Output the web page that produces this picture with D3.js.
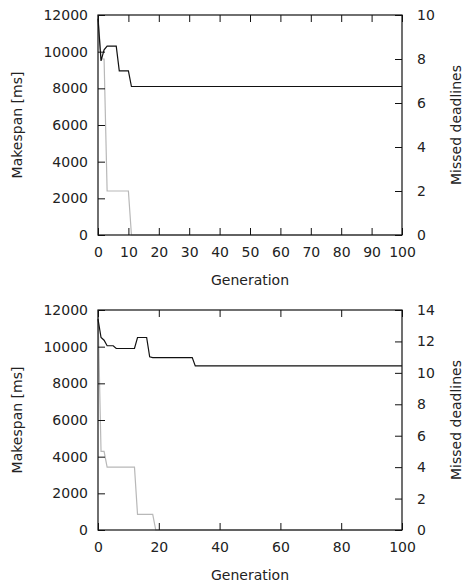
<!DOCTYPE html>
<html><head><meta charset="utf-8">
<script src="https://cdn.jsdelivr.net/npm/d3@7"></script>
<style>
html,body{margin:0;padding:0;background:#fff;}
svg text{font-family:"DejaVu Sans",Verdana,sans-serif;font-size:14px;fill:#222;}
</style></head>
<body>
<script>
// Panel 1 data
const generations1 = [0, 1, 2, 3, 6, 7, 10, 11, 100];
const makespan1   = [11800, 9500, 10100, 10300, 10300, 8950, 8950, 8100, 8100];
const missedGen1  = [0, 1, 2, 3, 10, 11, 100];
const missed1     = [10, 8, 8, 2, 2, 0, 0];
const xTicks1 = [0,10,20,30,40,50,60,70,80,90,100];
const yTicks1 = [0,2000,4000,6000,8000,10000,12000];
const y2Ticks1 = [0,2,4,6,8,10];

// Panel 2 data
const generations2 = [0, 1, 2, 3, 5, 6, 12, 13, 16, 17, 18, 31, 32, 100];
const makespan2   = [11500, 10500, 10350, 10050, 10050, 9900, 9900, 10500, 10500, 9450, 9400, 9400, 8950, 8950];
const missedGen2  = [0, 1, 2, 3, 12, 13, 18, 19, 100];
const missed2     = [14, 5, 5, 4, 4, 1, 1, 0, 0];
const xTicks2 = [0,20,40,60,80,100];
const yTicks2 = [0,2000,4000,6000,8000,10000,12000];
const y2Ticks2 = [0,2,4,6,8,10,12,14];

const xLabel = "Generation", yLabel = "Makespan [ms]", y2Label = "Missed deadlines";

const W = 464, H = 587;
const svg = d3.select("body").append("svg").attr("width", W).attr("height", H);
const fmt = d3.format("d");

function panel(top, gens, ms, mgens, missed, xT, yT, y2T) {
  const left = 98, right = 402, bottom = top + 220;
  const x = d3.scaleLinear().domain([0, 100]).range([left, right]);
  const y = d3.scaleLinear().domain([0, 12000]).range([bottom, top]);
  const y2 = d3.scaleLinear().domain([0, d3.max(y2T)]).range([bottom, top]);
  const g = svg.append("g");
  const tl = 7;

  const lineMs = d3.line().x(d => x(d[0])).y(d => y(d[1]));
  const lineMd = d3.line().x(d => x(d[0])).y(d => y2(d[1]));
  g.append("path").datum(d3.zip(mgens, missed)).attr("d", lineMd)
    .attr("fill", "none").attr("stroke", "#b8b8b8").attr("stroke-width", 1.2);
  g.append("path").datum(d3.zip(gens, ms)).attr("d", lineMs)
    .attr("fill", "none").attr("stroke", "#111").attr("stroke-width", 1.2);

  const axB = g.append("g").attr("transform", `translate(0,${bottom})`)
    .call(d3.axisBottom(x).tickValues(xT).tickFormat(fmt).tickSizeInner(-tl).tickSizeOuter(0).tickPadding(12));
  const axT = g.append("g").attr("transform", `translate(0,${top})`)
    .call(d3.axisTop(x).tickValues(xT).tickSizeInner(-tl).tickSizeOuter(0).tickFormat(""));
  const axL = g.append("g").attr("transform", `translate(${left},0)`)
    .call(d3.axisLeft(y).tickValues(yT).tickFormat(fmt).tickSizeInner(-tl).tickSizeOuter(0).tickPadding(10));
  const axR = g.append("g").attr("transform", `translate(${right},0)`)
    .call(d3.axisRight(y2).tickValues(y2T).tickFormat(fmt).tickSizeInner(-tl).tickSizeOuter(0).tickPadding(15));
  [axB, axT, axL, axR].forEach(a => {
    a.select(".domain").remove();
    a.selectAll("line").attr("stroke", "#111");
    a.selectAll("text").attr("font-size", null).attr("font-family", null).attr("fill", "#222");
  });
  g.append("rect").attr("x", left).attr("y", top).attr("width", right - left).attr("height", bottom - top)
    .attr("fill", "none").attr("stroke", "#111").attr("stroke-width", 1.2);

  g.append("text").attr("x", (left + right) / 2).attr("y", bottom + 45)
    .attr("text-anchor", "middle").attr("dy", "0.35em").text(xLabel);
  g.append("text").attr("transform", `translate(17,${(top + bottom) / 2}) rotate(-90)`)
    .attr("text-anchor", "middle").attr("dy", "0.35em").text(yLabel);
  g.append("text").attr("transform", `translate(456,${(top + bottom) / 2}) rotate(-90)`)
    .attr("text-anchor", "middle").attr("dy", "0.35em").text(y2Label);
}

panel(15, generations1, makespan1, missedGen1, missed1, xTicks1, yTicks1, y2Ticks1);
panel(310, generations2, makespan2, missedGen2, missed2, xTicks2, yTicks2, y2Ticks2);
</script>
</body></html>
